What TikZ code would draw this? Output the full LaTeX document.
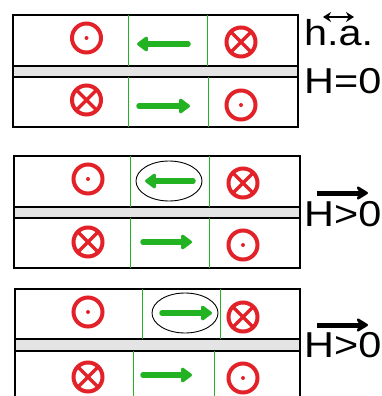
\documentclass[tikz,border=0pt]{standalone}
\usepackage{fontspec}
\setmainfont{Liberation Sans}
\newfontfamily\lblfont[FakeStretch=1.15]{Liberation Sans}
\usetikzlibrary{arrows.meta,shapes.geometric}
\definecolor{myred}{RGB}{226,34,40}
\definecolor{mygreen}{RGB}{34,178,34}
\definecolor{mygray}{RGB}{228,228,228}
\begin{document}
\begin{tikzpicture}[x=1pt,y=-1pt,
  dotsym/.style={circle, draw=myred, line width=4pt, minimum size=29pt, inner sep=0pt,
    path picture={\fill[myred] (path picture bounding box.center) circle (2pt);}},
  crosssym/.style={circle, draw=myred, line width=4pt, minimum size=29pt, inner sep=0pt,
    path picture={\draw[myred, line width=3.2pt]
      (path picture bounding box.south west) -- (path picture bounding box.north east)
      (path picture bounding box.north west) -- (path picture bounding box.south east);}},
  garrow/.style={draw=mygreen, line width=5.5pt, line cap=round,
    -{Triangle[length=12pt,width=17pt,round]}},
  layer/.style={draw=black, line width=1.8pt},
  spacer/.style={draw=black, line width=1.8pt, fill=mygray},
  divider/.style={draw=mygreen, line width=0.8pt},
  sel/.style={draw=black, line width=0.9pt},
  lbl/.style={anchor=base west, inner sep=0pt, font=\lblfont\fontsize{36}{40}\selectfont},
  harrow/.style={line width=5pt, -{Stealth[length=14pt,width=17pt,round]}}
]
\useasboundingbox (0,0) rectangle (382,396);
\begin{scope}
\clip (0,0) rectangle (382,396);
% ---------- Panel 1 ----------
\draw[layer] (13,15) rectangle (298,66);
\draw[spacer] (13,66) rectangle (298,77);
\draw[layer] (13,77) rectangle (298,127);
\draw[divider] (128,15) -- (128,66) (207,15) -- (207,66);
\draw[divider] (128,77) -- (128,127) (208,77) -- (208,127);
\node[dotsym] (d1u) at (86.5,38) {};
\node[crosssym] (c1u) at (241,42) {};
\node[crosssym] (c1l) at (86.5,100) {};
\node[dotsym] (d1l) at (241,105) {};
\coordinate (a1us) at (188,44); \coordinate (a1ue) at (137,44);
\coordinate (a1ls) at (139,106); \coordinate (a1le) at (190,106);
\draw[garrow] (a1us) -- (a1ue);
\draw[garrow] (a1ls) -- (a1le);
% ---------- Panel 2 ----------
\draw[layer] (14,156) rectangle (300,207);
\draw[spacer] (14,207) rectangle (300,218);
\draw[layer] (14,218) rectangle (300,268);
\draw[divider] (130,156) -- (130,207) (209,156) -- (209,207);
\draw[divider] (130,218) -- (130,268) (209,218) -- (209,268);
\node[dotsym] (d2u) at (88,179) {};
\node[crosssym] (c2u) at (243,183) {};
\node[crosssym] (c2l) at (88,242) {};
\node[dotsym] (d2l) at (243,245) {};
\node[sel, ellipse, draw, minimum width=66pt, minimum height=40pt, inner sep=0pt] (e2) at (169,181) {};
\coordinate (a2us) at (193,181); \coordinate (a2ue) at (145,181);
\coordinate (a2ls) at (143,242); \coordinate (a2le) at (192,242);
\draw[garrow] (a2us) -- (a2ue);
\draw[garrow] (a2ls) -- (a2le);
% ---------- Panel 3 ----------
\draw[layer] (15,289) rectangle (300,339);
\draw[spacer] (15,339) rectangle (300,351);
\draw[layer] (15,351) rectangle (300,410);
\draw[divider] (142,289) -- (142,339) (220,289) -- (220,339);
\draw[divider] (133,351) -- (133,400) (214,351) -- (214,400);
\node[dotsym] (d3u) at (88,312) {};
\node[crosssym] (c3u) at (243,317) {};
\node[crosssym] (c3l) at (88,377) {};
\node[dotsym] (d3l) at (243,378) {};
\node[sel, ellipse, draw, minimum width=66pt, minimum height=40pt, inner sep=0pt] (e3) at (185,313) {};
\coordinate (a3us) at (162,313); \coordinate (a3ue) at (212,313);
\coordinate (a3ls) at (143,375); \coordinate (a3le) at (192,375);
\draw[garrow] (a3us) -- (a3ue);
\draw[garrow] (a3ls) -- (a3le);
% ---------- Labels ----------
\node[lbl] (ha) at (304,46) {h.a.};
\coordinate (hal) at (323,17); \coordinate (har) at (354,17);
\draw[line width=2.4pt, {Stealth[length=8pt,width=10pt]}-{Stealth[length=8pt,width=10pt]}] (hal) -- (har);
\node[lbl] (h0) at (304,93) {H=0};
\node[lbl] (h2) at (304,226) {H>0};
\coordinate (h2l) at (317,193); \coordinate (h2r) at (368,193);
\draw[harrow] (h2l) -- (h2r);
\node[lbl] (h3) at (304,357) {H>0};
\coordinate (h3l) at (317,325); \coordinate (h3r) at (368,325);
\draw[harrow] (h3l) -- (h3r);
\end{scope}
\end{tikzpicture}
\end{document}
